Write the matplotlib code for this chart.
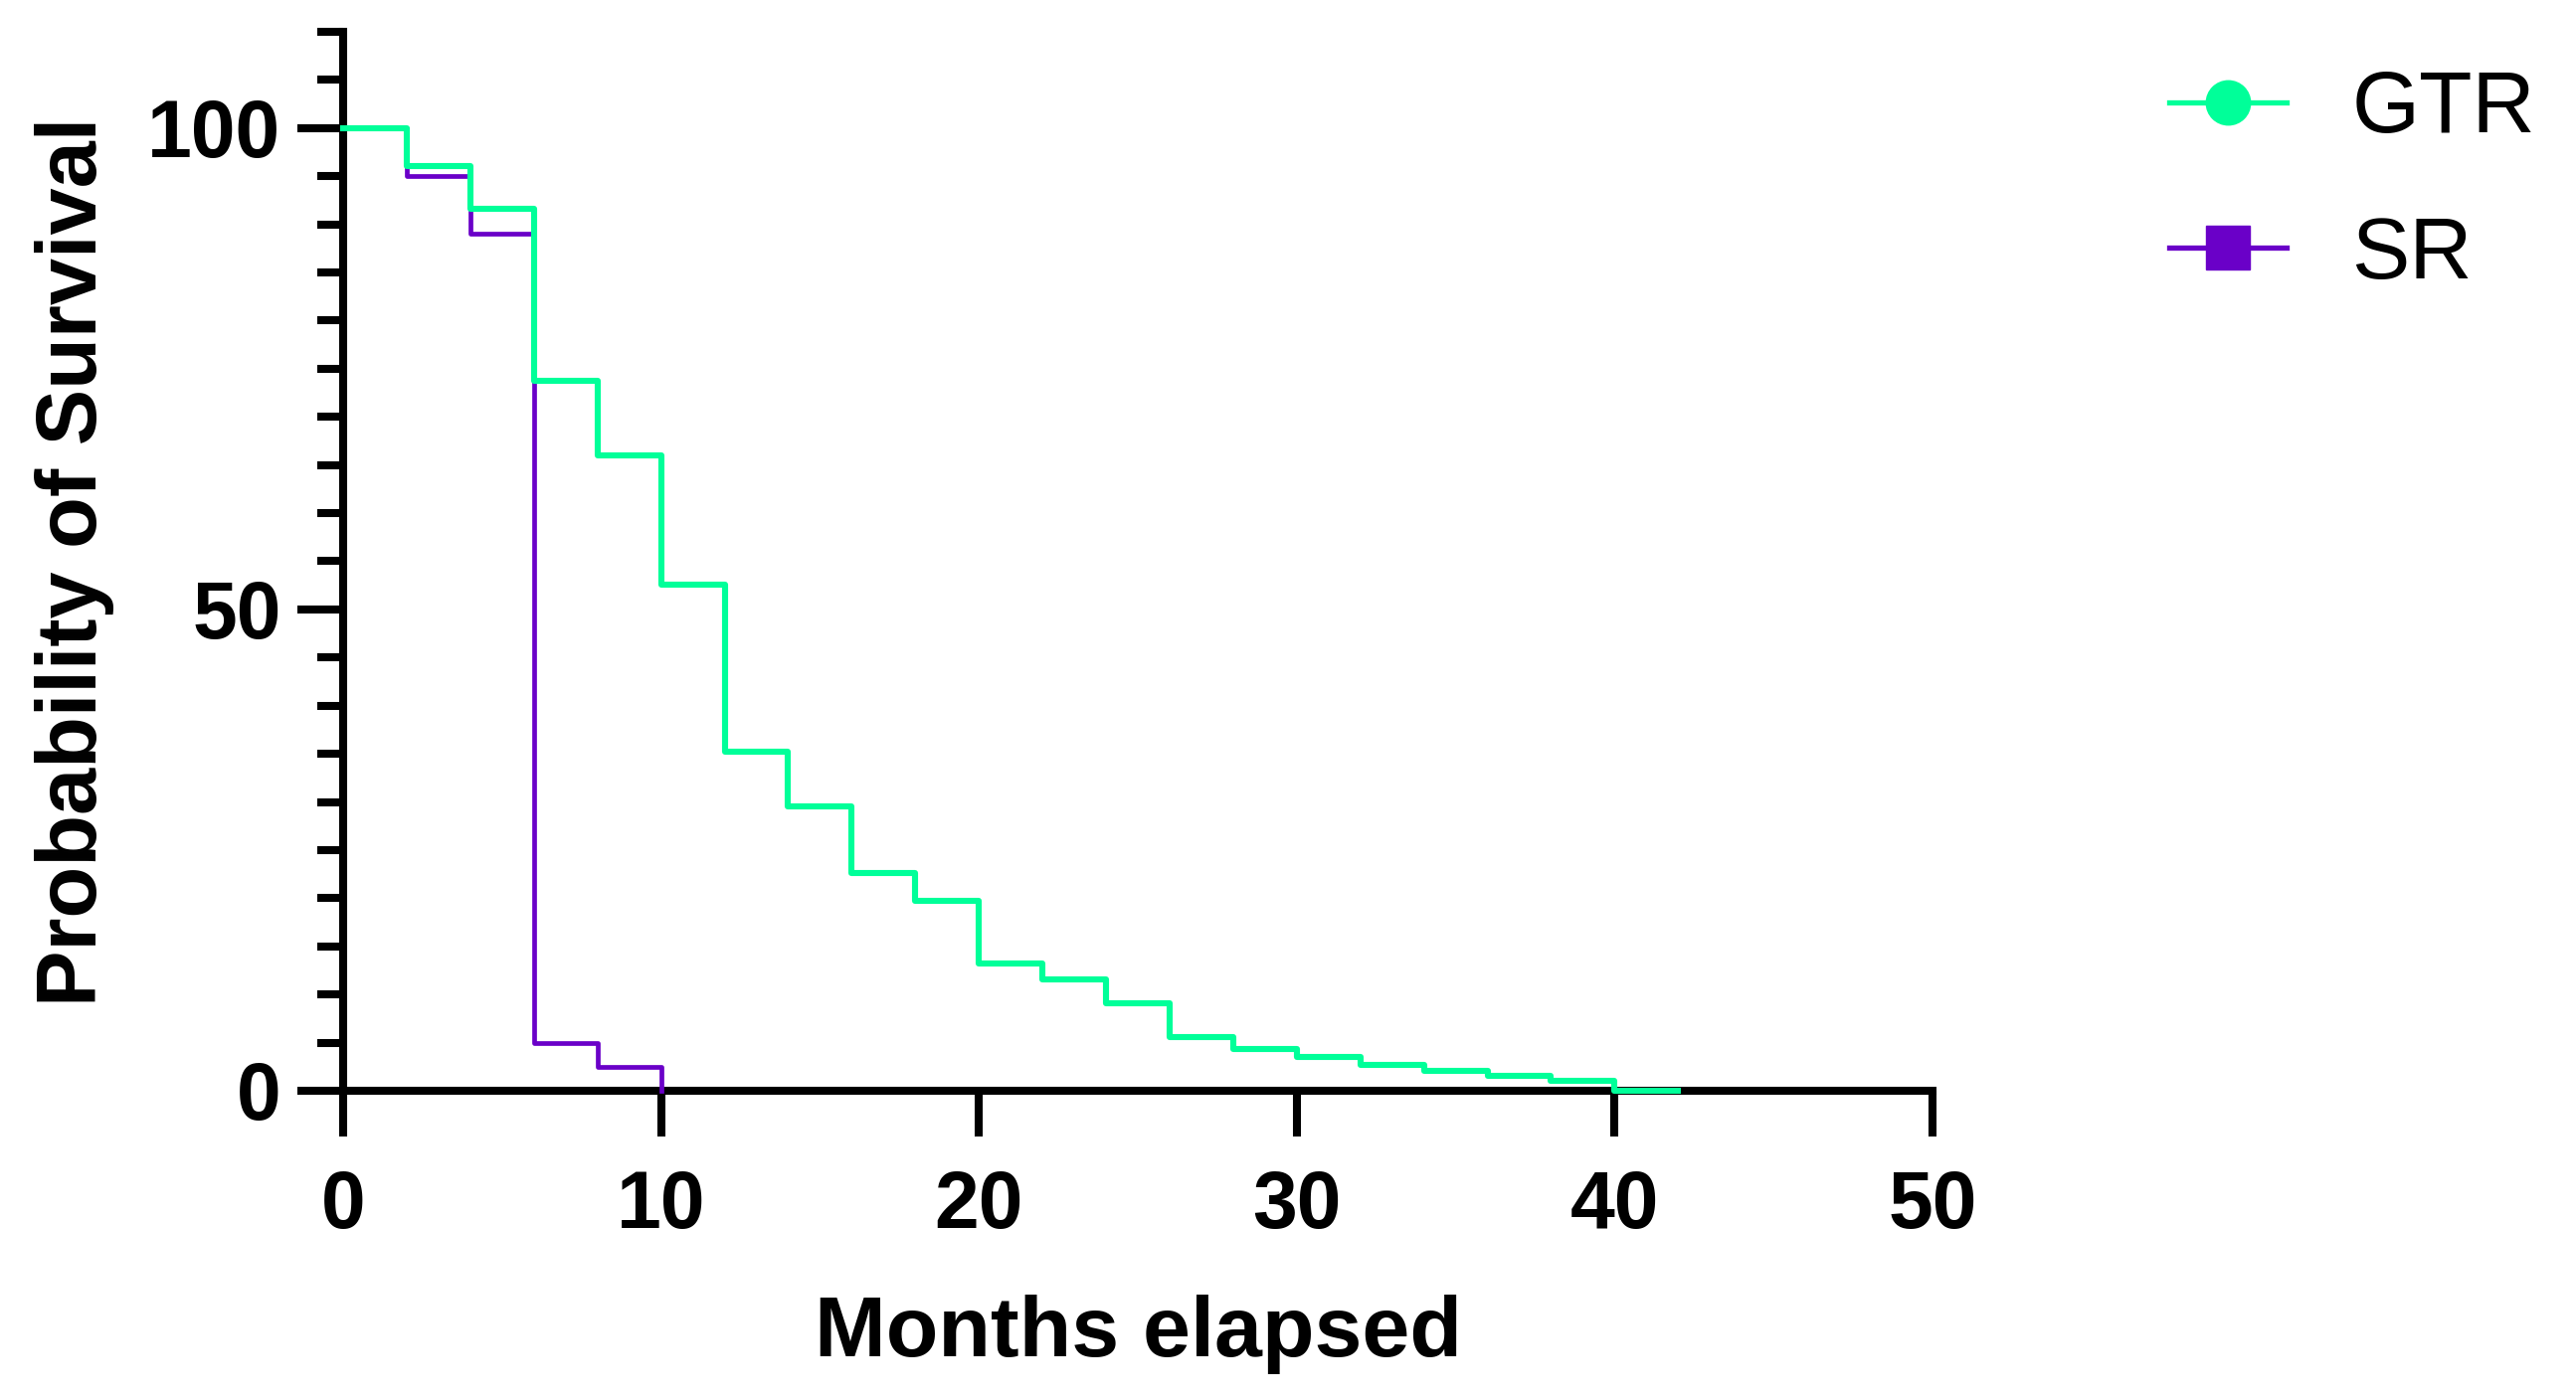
import numpy as np
import matplotlib
matplotlib.use('Agg')
import matplotlib.pyplot as plt
from matplotlib.lines import Line2D
from matplotlib.ticker import MultipleLocator

# Kaplan-Meier style survival steps (months, % surviving)
GTR_MONTHS = [0, 2, 4, 6, 8, 10, 12, 14, 16, 18, 20, 22, 24, 26, 28, 30, 32, 34, 36, 38, 40, 42]
GTR_SURV = [100, 96.1, 91.6, 73.7, 66.0, 52.6, 35.2, 29.5, 22.6, 19.7, 13.2, 11.6,
            9.1, 5.6, 4.3, 3.5, 2.7, 2.1, 1.5, 1.0, 0, 0]
SR_MONTHS = [0, 2, 4, 6, 8, 10]
SR_SURV = [100, 95.0, 89.0, 5.0, 2.5, 0]

LABELS = ['GTR', 'SR']
GREEN = '#00FF99'
PURPLE = '#6A00C8'

plt.rcParams.update({
    'font.family': ['Liberation Sans', 'DejaVu Sans'],
    'axes.linewidth': 5.8,
})

fig = plt.figure(figsize=(25.9, 14.08), dpi=100)
ax = fig.add_axes([0.1332, 0.2209, 0.617, 0.7564])

# green sits on top of purple where they overlap
ax.step(SR_MONTHS, SR_SURV, where='post', color=PURPLE, lw=3.4, zorder=3, clip_on=False)
ax.step(GTR_MONTHS, GTR_SURV, where='post', color=GREEN, lw=4.4, zorder=4, clip_on=False)

ax.set_xlim(0, 50)
ax.set_ylim(0, 110)
ax.spines['top'].set_visible(False)
ax.spines['right'].set_visible(False)

ax.xaxis.set_major_locator(MultipleLocator(10))
ax.yaxis.set_major_locator(MultipleLocator(50))
ax.yaxis.set_minor_locator(MultipleLocator(5))
ax.tick_params(axis='both', which='major', length=33, width=5.8, direction='out',
               labelsize=58)
ax.tick_params(axis='x', which='major', pad=24)
ax.tick_params(axis='y', which='major', pad=12)
ax.tick_params(axis='y', which='minor', length=19, width=5.8, direction='out')
for lab in ax.get_xticklabels() + ax.get_yticklabels():
    lab.set_fontweight('bold')

ax.set_xlabel('Months elapsed', fontsize=62, fontweight='bold', labelpad=36)
ax.set_ylabel('Probability of Survival', fontsize=61, fontweight='bold', labelpad=24)

handles = [
    Line2D([], [], color=GREEN, lw=3.8, marker='o', markersize=32),
    Line2D([], [], color=PURPLE, lw=3.8, marker='s', markersize=32),
]
fig.legend(handles, LABELS, loc='upper left', bbox_to_anchor=(0.842, 0.95),
           frameon=False, fontsize=63, handlelength=1.35, handletextpad=0.75,
           labelspacing=0.75, borderpad=0, borderaxespad=0)

fig.savefig('out.png', dpi=100)
